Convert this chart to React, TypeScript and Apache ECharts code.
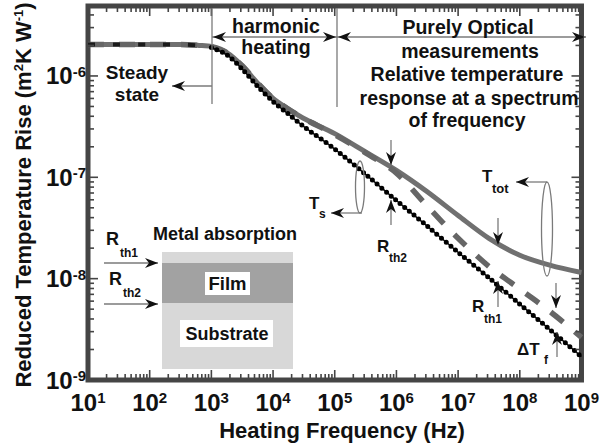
import React, { useEffect, useRef } from 'react';
import * as echarts from 'echarts';

// Heating frequency grid (Hz) shared by all three response curves
const FREQUENCY_HZ = [
  1e1, 1e2, 3.16e2, 6.31e2, 1e3, 1.78e3, 3.16e3, 5.62e3, 1e4, 1.78e4, 3.16e4, 1e5, 3.16e5,
  1e6, 3.16e6, 1e7, 3.16e7, 1e8, 3.16e8, 1e9,
];
// Total reduced temperature rise, T_tot (m^2 K / W)
const T_TOTAL = [
  2.04e-6, 2.04e-6, 2.04e-6, 2.0e-6, 1.95e-6, 1.7e-6, 1.26e-6, 8.5e-7, 6.0e-7, 4.7e-7, 3.8e-7,
  2.7e-7, 1.78e-7, 1.17e-7, 7.2e-8, 4.2e-8, 2.5e-8, 1.7e-8, 1.35e-8, 1.15e-8,
];
// Film surface response including R_th1
const T_FILM = [
  2.04e-6, 2.04e-6, 2.04e-6, 2.0e-6, 1.95e-6, 1.7e-6, 1.26e-6, 8.5e-7, 6.0e-7, 4.7e-7, 3.8e-7,
  2.63e-7, 1.74e-7, 1.1e-7, 5.2e-8, 2.5e-8, 1.32e-8, 7.9e-9, 4.7e-9, 2.63e-9,
];
// Substrate response, T_s
const T_SUBSTRATE = [
  2.04e-6, 2.04e-6, 2.04e-6, 2.0e-6, 1.91e-6, 1.62e-6, 1.17e-6, 7.9e-7, 5.6e-7, 4.2e-7, 3.16e-7,
  1.9e-7, 1.07e-7, 5.9e-8, 3.3e-8, 1.82e-8, 1.02e-8, 5.6e-9, 3.1e-9, 1.7e-9,
];
// index of the 1 kHz point, where the steady-state plateau ends
const PLATEAU_END = 4;

const X_EXPONENTS = [1, 2, 3, 4, 5, 6, 7, 8, 9];
const Y_EXPONENTS = [-9, -8, -7, -6];
const MINOR_STEPS = [2, 3, 4, 5, 6, 7, 8, 9];
const X_MIN = 1e1;
const X_MAX = 1e9;
const Y_MIN = 1e-9;
const Y_MAX = 4.9e-6;

const FONT = '"Liberation Sans", Arial, Helvetica, sans-serif';
const INK = '#111';
const THIN = '#7a7a7a';
const FRAME = '#454545';

const xTicks: number[][] = [];
X_EXPONENTS.forEach((e, i) => {
  xTicks.push([Math.pow(10, e), Y_MIN, 1]);
  if (i < X_EXPONENTS.length - 1) MINOR_STEPS.forEach((k) => xTicks.push([k * Math.pow(10, e), Y_MIN, 0]));
});
const yTicks: number[][] = [];
Y_EXPONENTS.forEach((e) => {
  yTicks.push([X_MIN, Math.pow(10, e), 1]);
  MINOR_STEPS.forEach((k) => {
    const v = k * Math.pow(10, e);
    if (v < Y_MAX) yTicks.push([X_MIN, v, 0]);
  });
});

const powerLabel = (v: number) => {
  const l = Math.log10(v);
  const e = Math.round(l);
  if (Math.abs(l - e) > 1e-6) return '';
  return `{b|10}{s|${e}}`;
};
const labelRich = {
  b: { fontSize: 24, fontWeight: 'bold', fontFamily: FONT, color: INK },
  s: { fontSize: 15, fontWeight: 'bold', fontFamily: FONT, color: INK, verticalAlign: 'top' },
};

const txt = (text: string, x: number, y: number, size: number, align = 'center', extra: any = {}) => ({
  type: 'text',
  x,
  y,
  z: 20,
  ...extra,
  style: {
    text,
    fontSize: size,
    fontWeight: 'bold',
    fontFamily: FONT,
    fill: INK,
    align,
    textAlign: align,
    verticalAlign: 'middle',
    textVerticalAlign: 'middle',
    ...(extra.style || {}),
  },
});

const seg = (x1: number, y1: number, x2: number, y2: number, color = THIN, w = 1.3) => ({
  type: 'line',
  z: 18,
  shape: { x1, y1, x2, y2 },
  style: { stroke: color, lineWidth: w },
});

const head = (tx: number, ty: number, dx: number, dy: number, len = 13, half = 5, notch = 4) => {
  const n = Math.hypot(dx, dy);
  const ux = dx / n;
  const uy = dy / n;
  const px = -uy;
  const py = ux;
  const bx = tx - ux * len;
  const by = ty - uy * len;
  return {
    type: 'polygon',
    z: 19,
    shape: {
      points: [
        [tx, ty],
        [bx + px * half, by + py * half],
        [tx - ux * (len - notch), ty - uy * (len - notch)],
        [bx - px * half, by - py * half],
      ],
    },
    style: { fill: INK },
  };
};

// shaft from (x1,y1) ending in an arrowhead at (x2,y2)
const arrow = (x1: number, y1: number, x2: number, y2: number) => [
  seg(x1, y1, x2, y2),
  head(x2, y2, x2 - x1, y2 - y1),
];

const ellipse = (cx: number, cy: number, rx: number, ry: number) => ({
  type: 'ellipse',
  z: 18,
  shape: { cx, cy, rx, ry },
  style: { fill: 'none', stroke: THIN, lineWidth: 1.3 },
});

const rect = (x: number, y: number, width: number, height: number, fill: string) => ({
  type: 'rect',
  z: 15,
  shape: { x, y, width, height },
  style: { fill },
});

const subLabel = (main: string, sub: string, x: number, y: number, size: number, subDx: number, subDy: number, subSize = 12) => [
  txt(main, x, y, size, 'left'),
  txt(sub, x + subDx, y + subDy, subSize, 'left'),
];

const graphics: any[] = [
  // measurement regimes
  seg(212, 8, 212, 104),
  seg(337, 8, 337, 107),
  seg(212, 37, 337, 37),
  head(213, 37, -1, 0),
  head(336, 37, 1, 0),
  seg(337, 37, 586, 37),
  head(338, 37, -1, 0),
  head(585, 37, 1, 0),
  ...arrow(212, 86, 172, 86),
  txt('harmonic', 276, 26, 19.5),
  txt('heating', 276, 47, 19.5),
  txt('Purely Optical', 468, 27, 19.5),
  txt('measurements', 470, 51, 19.5),
  txt('Relative temperature', 467, 74, 19.5),
  txt('response at a spectrum', 469, 98, 19.5),
  txt('of frequency', 467, 120, 19.5),
  txt('Steady', 137, 72, 19),
  txt('state', 137, 94, 19),

  // curve labels
  ellipse(360, 187, 4.5, 26),
  ...arrow(362, 213, 331, 213),
  ...subLabel('T', 's', 309, 203, 17, 10, 11),
  ellipse(547, 229, 5.5, 47),
  ...arrow(547, 182, 516, 182),
  ...subLabel('T', 'tot', 482, 176, 17, 10, 12, 13),

  ...arrow(391, 140, 391, 165),
  ...arrow(391, 225, 391, 200),
  ...subLabel('R', 'th2', 377, 246, 17, 12, 12),
  ...arrow(498, 218, 498, 245),
  ...arrow(498, 307, 498, 281),
  ...subLabel('R', 'th1', 472, 306.5, 17, 12, 12),
  ...arrow(556, 283, 556, 308),
  ...arrow(557, 357, 557, 332),
  ...subLabel('\u0394T', 'f', 517, 349, 17, 27, 11),

  // film / substrate sketch
  rect(162, 252, 131, 117, '#d8d8d8'),
  rect(162, 263, 131, 40, '#a2a2a2'),
  rect(205, 272, 45, 23, '#ffffff'),
  rect(180, 320, 93, 27, '#ffffff'),
  txt('Film', 227.5, 283.5, 18.5),
  txt('Substrate', 227, 333.5, 18),
  txt('Metal absorption', 153, 234, 18, 'left'),
  ...arrow(104, 263, 158, 263),
  ...arrow(104, 304, 158, 304),
  ...subLabel('R', 'th1', 106, 238.5, 18, 14, 14),
  ...subLabel('R', 'th2', 109, 278.5, 18, 14, 14),

  // axis titles
  txt('Heating Frequency (Hz)', 342, 430, 22),
  {
    type: 'text',
    x: 23,
    y: 195,
    rotation: Math.PI / 2,
    z: 20,
    style: {
      text: 'Reduced Temperature Rise (m{s|2}K W{s|-1})',
      fontSize: 22,
      fontWeight: 'bold',
      fontFamily: FONT,
      fill: INK,
      align: 'center',
      textAlign: 'center',
      verticalAlign: 'middle',
      textVerticalAlign: 'middle',
      rich: {
        s: { fontSize: 13, fontWeight: 'bold', fontFamily: FONT, fill: INK, verticalAlign: 'top' },
      },
    },
  },
];

const pairs = (ys: number[]) => FREQUENCY_HZ.map((f, i) => [f, ys[i]]);

const tickSeries = (data: number[][], horizontal: boolean) => ({
  type: 'custom',
  silent: true,
  clip: false,
  z: 10,
  data,
  renderItem: (params: any, api: any) => {
    const cs = params.coordSys;
    const p = api.coord([api.value(0), api.value(1)]);
    const len = api.value(2) ? 10 : 6;
    const style = { stroke: FRAME, lineWidth: 1.6 };
    const children = horizontal
      ? [
          { type: 'line', shape: { x1: p[0], y1: cs.y + cs.height, x2: p[0], y2: cs.y + cs.height - len }, style },
          { type: 'line', shape: { x1: p[0], y1: cs.y, x2: p[0], y2: cs.y + len }, style },
        ]
      : [
          { type: 'line', shape: { x1: cs.x, y1: p[1], x2: cs.x + len, y2: p[1] }, style },
          { type: 'line', shape: { x1: cs.x + cs.width, y1: p[1], x2: cs.x + cs.width - len, y2: p[1] }, style },
        ];
    return { type: 'group', children };
  },
});

const curve = (name: string, data: number[][], z: number, lineStyle: any) => ({
  type: 'line',
  name,
  data,
  symbol: 'none',
  smooth: 0.3,
  silent: true,
  z,
  lineStyle,
});

const substrate = pairs(T_SUBSTRATE);

const option: any = {
  animation: false,
  backgroundColor: '#ffffff',
  grid: {
    left: 88,
    right: 13,
    top: 6,
    bottom: 65,
    show: true,
    borderColor: FRAME,
    borderWidth: 5,
    backgroundColor: 'transparent',
  },
  xAxis: {
    type: 'log',
    logBase: 10,
    min: X_MIN,
    max: X_MAX,
    axisLine: { show: false },
    axisTick: { show: false },
    splitLine: { show: false },
    axisLabel: { margin: 10, formatter: powerLabel, rich: labelRich },
  },
  yAxis: {
    type: 'log',
    logBase: 10,
    min: Y_MIN,
    max: Y_MAX,
    axisLine: { show: false },
    axisTick: { show: false },
    splitLine: { show: false },
    axisLabel: { margin: 2, formatter: powerLabel, rich: labelRich },
  },
  series: [
    curve('T_tot', pairs(T_TOTAL), 3, { color: '#707070', width: 5 }),
    curve('film', pairs(T_FILM), 4, { color: '#666666', width: 5.5, type: [16, 15] }),
    // steady-state plateau of T_s: short dark dashes over the grey band
    curve('T_s plateau', substrate.slice(0, PLATEAU_END + 1), 5, { color: '#1a1a1a', width: 4, type: [7, 18] }),
    // decaying part of T_s: chain of beads
    curve('T_s core', substrate.slice(PLATEAU_END), 5, { color: INK, width: 1.5 }),
    curve('T_s', substrate.slice(PLATEAU_END), 6, { color: '#000', width: 5, type: [0, 6], cap: 'round' }),
    tickSeries(xTicks, true),
    tickSeries(yTicks, false),
  ],
  graphic: { elements: graphics },
};

export default function App() {
  const ref = useRef<HTMLDivElement>(null);
  useEffect(() => {
    document.body.style.margin = '0';
    const chart = echarts.init(ref.current!, undefined, { renderer: 'svg', width: 602, height: 445 });
    chart.setOption(option);
    return () => chart.dispose();
  }, []);
  return <div ref={ref} style={{ width: 602, height: 445 }} />;
}
